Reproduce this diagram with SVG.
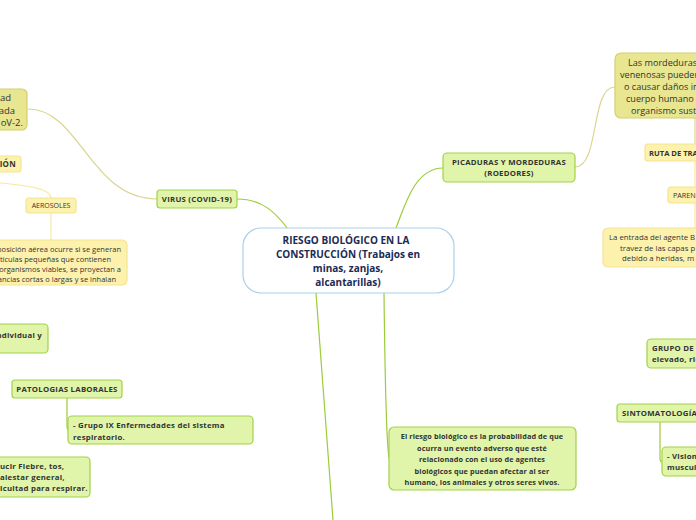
<svg xmlns="http://www.w3.org/2000/svg" width="696" height="520" viewBox="0 0 696 520">
<style>
text{font-family:"Open Sans","Noto Sans","Liberation Sans",sans-serif;fill:#333}
.b{font-weight:700;letter-spacing:0.25px}
.g rect{fill:#e0f5aa;stroke:#a3d14a;stroke-width:1.2}
.y rect{fill:#fdf2ad;stroke:#f6e490;stroke-width:1.2}
.o rect{fill:#e8e690;stroke:#d4d06c;stroke-width:1.2}
.c rect{fill:#fff;stroke:#a9d0ec;stroke-width:1.2}
.lg{fill:none;stroke:#9ccb3b;stroke-width:1.2}
.lo{fill:none;stroke:#d9d692;stroke-width:1.2}
.ly{fill:none;stroke:#f7e9a2;stroke-width:1.2}
</style>
<rect width="696" height="520" fill="#fff"/>
<g id="connectors">
<path class="lg" d="M237,199 C262,199 275,212 288,229"/>
<path class="lo" d="M28,109 C80,109 90,199 157,199"/>
<path class="lg" d="M396,228 C405,205 415,168 443,168"/>
<path class="lo" d="M575,167 C600,167 590,87 615,87"/>
<path class="lg" d="M316,293 L333,520"/>
<path class="lg" d="M384,293 C385,380 386,440 389,458"/>
<path class="ly" d="M0,183 C35,186 51,190 51,198"/>
<path class="ly" d="M51,213 L51,240"/>
<path class="lg" d="M67,398 L67,426 Q67,430 69,430"/>
<path class="lg" d="M660,422 L660,458 Q660,462 662,462"/>
<path class="lo" d="M695,118 L695,144"/>
<path class="ly" d="M695,161 L695,228"/>
</g>
<g id="center" class="c">
<rect x="243" y="228" width="211" height="65" rx="18"/>
<text font-weight="700" font-size="10" text-anchor="middle" style="fill:#1b2a55"><tspan x="346" y="244">RIESGO BIOLÓGICO EN LA</tspan><tspan x="348" y="258">CONSTRUCCIÓN (Trabajos en</tspan><tspan x="348" y="272">minas, zanjas,</tspan><tspan x="348" y="286">alcantarillas)</tspan></text>
</g>
<g id="definicion" class="g">
<rect x="389" y="427" width="187" height="63" rx="5"/>
<text class="b" font-size="7.3" text-anchor="middle" style="letter-spacing:0.1px"><tspan x="482" y="439">El riesgo biológico es la probabilidad de que</tspan><tspan x="482" y="450.5">ocurra un evento adverso que esté</tspan><tspan x="482" y="462">relacionado con el uso de agentes</tspan><tspan x="482" y="473.5">biológicos que puedan afectar al ser</tspan><tspan x="482" y="485">humano, los animales y otros seres vivos.</tspan></text>
</g>
<g id="virus" class="g">
<rect x="157" y="190" width="80" height="18" rx="3"/>
<text class="b" font-size="7.8" x="197" y="202" text-anchor="middle">VIRUS (COVID-19)</text>
</g>
<g id="covid-desc" class="o">
<rect x="-20" y="89" width="47" height="41" rx="5"/>
<text font-size="9.5" text-anchor="end"><tspan x="11" y="101">ad</tspan><tspan x="15" y="114">ada</tspan><tspan x="23" y="126">oV-2.</tspan></text>
</g>
<g id="transmision" class="y">
<rect x="-20" y="156" width="41" height="16" rx="3"/>
<text class="b" font-size="8" x="16" y="167" text-anchor="end">IÓN</text>
</g>
<g id="aerosoles" class="y">
<rect x="26" y="198" width="50" height="15" rx="3"/>
<text font-size="7" x="51" y="208" text-anchor="middle">AEROSOLES</text>
</g>
<g id="aerosoles-desc" class="y">
<rect x="-20" y="240" width="147" height="45" rx="5"/>
<text font-size="7.5" text-anchor="end"><tspan x="121" y="251.5">posición aérea ocurre si se generan</tspan><tspan x="111" y="261.5">rtículas pequeñas que contienen</tspan><tspan x="121" y="271.5">organismos viables, se proyectan a</tspan><tspan x="116" y="281.5">ancias cortas o largas y se inhalan</tspan></text>
</g>
<g id="proteccion" class="g">
<rect x="-20" y="324" width="68" height="29" rx="4"/>
<text class="b" font-size="7.8" x="42" y="338" text-anchor="end">ndividual y</text>
</g>
<g id="patologias" class="g">
<rect x="12" y="380" width="110" height="18" rx="3"/>
<text class="b" font-size="7.8" x="67" y="392" text-anchor="middle">PATOLOGIAS LABORALES</text>
</g>
<g id="grupo-ix" class="g">
<rect x="68" y="416" width="185" height="28" rx="4"/>
<text class="b" font-size="7.8"><tspan x="73" y="428">- Grupo IX Enfermedades del sistema</tspan><tspan x="73" y="439.5">respiratorio.</tspan></text>
</g>
<g id="sintomas-virus" class="g">
<rect x="-20" y="457" width="110" height="40" rx="4"/>
<text class="b" font-size="7.8"><tspan x="0" y="469">ucir Fiebre, tos,</tspan><tspan x="0" y="480">alestar general,</tspan><tspan x="0" y="491">icultad para respirar.</tspan></text>
</g>
<g id="picaduras" class="g">
<rect x="443" y="153" width="132" height="29" rx="4"/>
<text class="b" font-size="7.8" text-anchor="middle"><tspan x="509" y="165">PICADURAS Y MORDEDURAS</tspan><tspan x="509" y="176">(ROEDORES)</tspan></text>
</g>
<g id="mordeduras-desc" class="o">
<rect x="615" y="53" width="100" height="65" rx="6"/>
<text font-size="9.1"><tspan x="628" y="66">Las mordeduras</tspan><tspan x="620" y="78">venenosas pueden</tspan><tspan x="624" y="90">o causar daños in</tspan><tspan x="626" y="102">cuerpo humano .</tspan><tspan x="631" y="114">organismo sust</tspan></text>
</g>
<g id="ruta" class="y">
<rect x="645" y="144" width="70" height="17" rx="3"/>
<text font-weight="700" font-size="7.6" x="649" y="155.5">RUTA DE TRA</text>
</g>
<g id="parenteral" class="y">
<rect x="668" y="187" width="40" height="16" rx="3"/>
<text font-size="7.2" x="673" y="198">PAREN</text>
</g>
<g id="entrada" class="y">
<rect x="603" y="228" width="110" height="39" rx="5"/>
<text font-size="7.8"><tspan x="609" y="240">La entrada del agente B</tspan><tspan x="620" y="250.5">travez de las capas p</tspan><tspan x="622" y="261">debido a heridas, m</tspan></text>
</g>
<g id="grupo-riesgo" class="g">
<rect x="647" y="339" width="60" height="29" rx="4"/>
<text class="b" font-size="7.8"><tspan x="652" y="351">GRUPO DE</tspan><tspan x="652" y="362">elevado, rie</tspan></text>
</g>
<g id="sintomatologia" class="g">
<rect x="617" y="404" width="90" height="18" rx="3"/>
<text class="b" font-size="7.8" x="622" y="416">SINTOMATOLOGÍA</text>
</g>
<g id="vision" class="g">
<rect x="662" y="447" width="50" height="29" rx="4"/>
<text class="b" font-size="7.8"><tspan x="667" y="459">- Vision</tspan><tspan x="667" y="470">muscul</tspan></text>
</g>
</svg>
